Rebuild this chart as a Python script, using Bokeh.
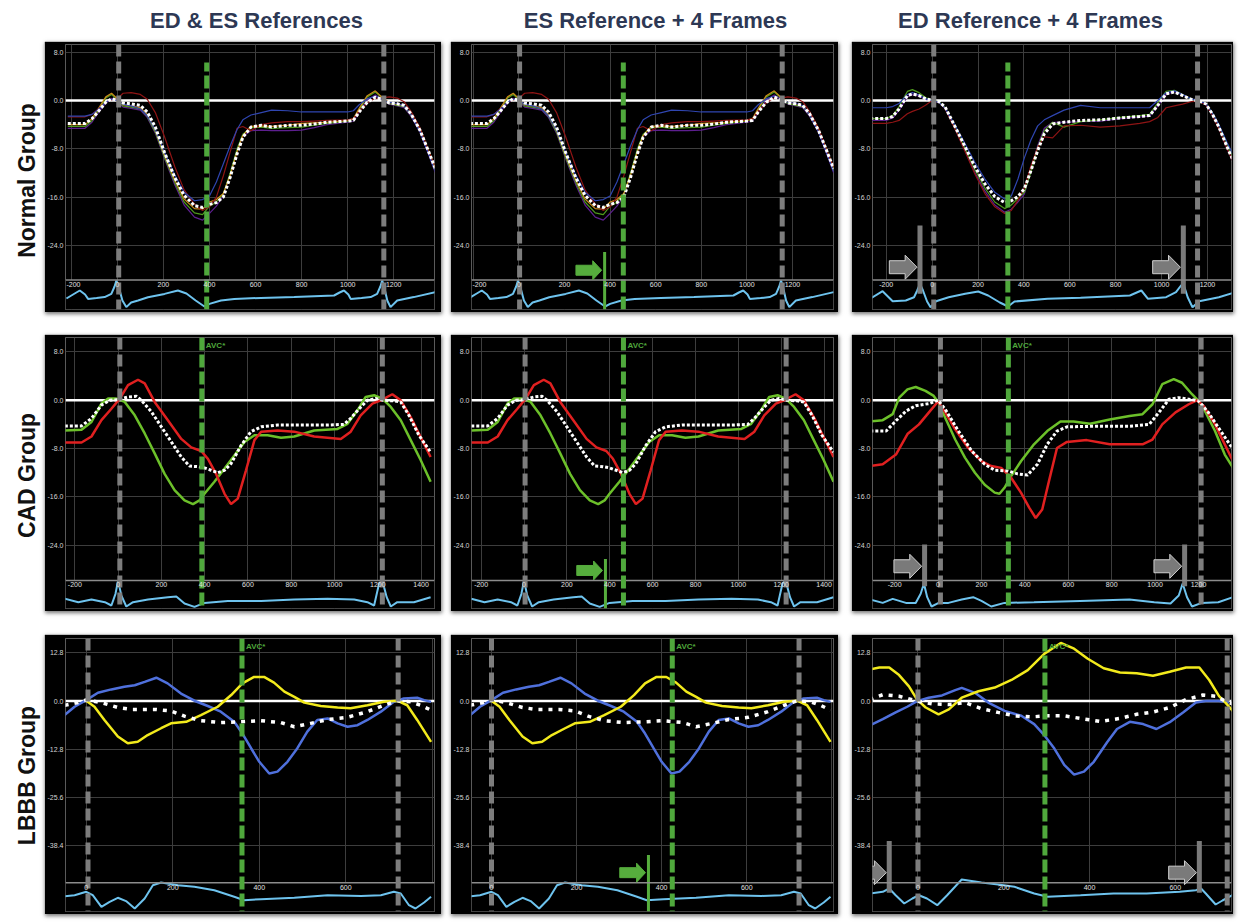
import math
from bokeh.plotting import figure
from bokeh.layouts import row, column
from bokeh.models import (Range1d, Span, FixedTicker, NumeralTickFormatter, Spacer, LabelSet,
                          ColumnDataSource, PolyAnnotation)
from bokeh.core.properties import value
from bokeh.embed import file_html
from bokeh.resources import INLINE

FONT = "Liberation Sans"

# ------------------------------------------------------------------ text
COL_TITLES = ["ED & ES References", "ES Reference + 4 Frames", "ED Reference + 4 Frames"]
ROW_TITLES = ["Normal Group", "CAD Group", "LBBB Group"]

# ------------------------------------------------------------------ ticks
X_TICKS_R1 = [-200, 0, 200, 400, 600, 800, 1000, 1200]
X_TICKS_R2 = [-200, 0, 200, 400, 600, 800, 1000, 1200, 1400]
X_TICKS_R3 = [-200, 0, 200, 400, 600, 800]
Y_TICKS_R12 = [8.0, 0.0, -8.0, -16.0, -24.0]
Y_TICKS_R3 = [12.8, 0.0, -12.8, -25.6, -38.4]

# ------------------------------------------------------------------ Normal group (ED & ES refs / ES + 4 frames)
X_N = [-215, -140, -110, -80, -50, -25, 0, 25, 60, 100, 130, 165, 205, 250, 290, 335, 370, 400, 430, 460,
       490, 520, 545, 580, 625, 670, 740, 800, 855, 910, 1000, 1025, 1050, 1085, 1120, 1150, 1180, 1215,
       1245, 1275, 1315, 1350, 1381]
N_AVG = [-3.8, -3.8, -3.0, -1.7, -0.3, 0.3, 0.0, -0.4, -0.55, -0.8, -1.9, -4.4, -8.6, -12.8, -15.7, -17.4,
         -17.7, -17.2, -16.9, -16.0, -12.7, -8.8, -6.1, -4.4, -4.1, -4.4, -4.1, -4.1, -3.9, -3.6, -3.4, -3.3,
         -1.9, -0.3, 0.55, 0.15, -0.4, -0.55, -0.8, -2.2, -5.0, -8.3, -11.3]
N_BLUE = [-2.6, -2.6, -2.3, -1.4, -0.3, 0.2, 0.0, -0.6, -0.9, -1.4, -2.5, -4.8, -8.6, -12.4, -15.2, -16.6,
          -16.4, -15.8, -13.5, -10.5, -7.5, -4.8, -3.2, -2.4, -2.0, -1.6, -1.7, -1.9, -1.9, -1.9, -1.9, -1.7,
          -0.7, 0.3, 0.7, 0.2, -0.3, -0.5, -0.9, -2.3, -5.2, -8.7, -11.8]
N_RED = [-2.7, -2.7, -2.3, -1.3, -0.3, 0.1, 0.3, 1.2, 1.3, 1.0, 0.2, -2.0, -6.0, -11.0, -14.8, -17.2, -18.2,
         -17.6, -16.0, -12.5, -8.5, -4.6, -4.3, -5.0, -4.0, -3.7, -3.5, -3.5, -3.4, -3.3, -3.2, -3.0, -1.8,
         -0.4, 0.4, 0.4, 0.6, 0.4, -0.2, -1.8, -4.6, -8.3, -11.0]
N_GREEN = [-4.3, -4.3, -3.3, -1.5, 0.4, 1.0, 0.2, -0.9, -1.1, -1.4, -2.6, -5.2, -9.4, -13.6, -16.8, -18.6,
           -18.9, -17.5, -16.8, -15.5, -12.0, -8.0, -5.6, -4.5, -4.4, -4.6, -4.5, -4.4, -4.1, -3.8, -3.4, -3.1,
           -1.5, 0.6, 1.4, 0.4, -0.5, -0.8, -1.0, -2.4, -5.0, -8.4, -11.6]
N_PURPLE = [-4.6, -4.6, -3.6, -1.9, -0.4, 0.3, 0.0, -1.1, -1.3, -1.6, -2.8, -5.4, -9.6, -14.0, -17.3, -19.3,
            -19.8, -18.7, -17.5, -15.8, -12.3, -8.4, -5.9, -5.0, -4.9, -5.0, -5.0, -4.9, -4.5, -4.0, -3.6, -3.4,
            -1.9, 0.1, 0.9, 0.2, -0.6, -0.9, -1.2, -2.6, -5.3, -8.8, -12.0]
N_ORANGE = [-4.0, -4.0, -3.0, -1.2, 0.6, 1.2, 0.3, -0.7, -0.9, -1.2, -2.3, -4.9, -9.0, -13.2, -16.3, -17.9,
            -18.0, -16.8, -16.4, -15.4, -12.4, -8.5, -5.8, -4.3, -4.2, -4.3, -4.1, -3.8, -3.7, -3.6, -3.3, -3.0,
            -1.3, 0.8, 1.6, 0.5, -0.3, -0.6, -0.9, -2.2, -4.8, -8.2, -11.2]

# Normal group, ED + 4 frames
X_N3 = [-270, -200, -172, -144, -108, -86, -57, -29, 0, 29, 57, 101, 144, 187, 230, 273, 316, 345, 374, 402,
        431, 460, 489, 525, 575, 647, 733, 819, 905, 948, 984, 1020, 1056, 1092, 1128, 1164, 1193, 1221, 1250,
        1286, 1322]
N3_AVG = [-3.0, -3.0, -2.65, -1.4, 0.8, 1.1, 0.8, 0.3, 0.0, -0.15, -1.1, -4.4, -7.7, -11.0, -13.8, -15.9,
          -16.9, -16.6, -15.9, -14.6, -11.6, -8.3, -5.5, -3.9, -3.6, -3.3, -3.2, -2.9, -2.65, -2.5, -0.8, 1.1,
          1.4, 0.8, 0.2, -0.1, -0.55, -2.2, -4.4, -7.7, -10.8]
N3_BLUE = [-1.2, -1.2, -1.0, -0.5, 1.0, 1.3, 0.9, 0.3, 0.0, -0.3, -1.3, -4.2, -7.2, -10.3, -13.0, -15.2, -16.3,
           -15.8, -13.0, -9.5, -6.5, -4.2, -3.2, -2.5, -1.6, -0.8, -1.2, -1.2, -1.2, -1.2, 0.0, 1.3, 1.6, 1.0,
           0.3, -0.1, -0.5, -2.0, -4.0, -7.0, -9.8]
N3_RED = [-3.8, -3.8, -3.6, -3.3, -2.2, -1.8, -1.4, -0.8, 0.0, -0.3, -1.4, -4.8, -8.5, -12.2, -15.4, -17.6,
          -18.7, -18.2, -16.5, -14.5, -10.8, -7.8, -6.0, -6.2, -4.2, -4.1, -4.4, -4.2, -3.8, -3.5, -2.8, -1.2,
          -0.9, -0.6, -0.2, -0.1, -0.7, -2.4, -4.7, -8.0, -11.0]
N3_GREEN = [-3.0, -3.0, -2.5, -1.0, 1.5, 1.8, 1.3, 0.5, 0.0, -0.2, -1.2, -4.6, -8.0, -11.5, -14.5, -16.8,
            -17.9, -17.3, -16.2, -15.2, -11.8, -7.8, -5.0, -3.6, -4.4, -3.5, -3.2, -2.8, -2.5, -2.3, -0.4, 1.5,
            1.7, 1.0, 0.2, -0.1, -0.5, -2.0, -4.2, -7.4, -10.3]
N3_PURPLE = [-3.3, -3.3, -2.9, -1.6, 0.6, 1.0, 0.7, 0.2, 0.0, -0.3, -1.3, -4.8, -8.3, -12.0, -15.0, -17.3,
             -18.5, -18.0, -16.8, -15.5, -11.5, -7.5, -4.6, -3.6, -3.6, -3.5, -3.4, -3.0, -2.7, -2.6, -0.9, 1.0,
             1.5, 0.9, 0.2, -0.1, -0.6, -2.3, -4.6, -7.9, -11.0]

# ------------------------------------------------------------------ CAD group
C_AVG_X = [-246, -169, -123, -77, -38, 0, 46, 84, 108, 154, 200, 246, 292, 330, 369, 399, 430, 461, 492, 522,
           568, 614, 661, 737, 814, 968, 1044, 1075, 1114, 1152, 1190, 1229, 1275, 1306, 1344, 1390, 1444]
C_AVG_Y = [-4.25, -4.25, -3.0, -0.8, 0.0, 0.1, 0.55, 0.66, 0.0, -1.9, -4.4, -6.9, -9.4, -10.9, -11.0, -11.2,
           -11.6, -12.0, -11.6, -10.5, -7.5, -5.2, -4.4, -4.1, -4.1, -4.1, -4.0, -3.0, -1.4, 0.0, 0.28, 0.0,
           -0.1, -0.3, -2.5, -5.8, -8.6]
C_GREEN_X = [-246, -169, -123, -77, -46, -8, 31, 77, 123, 169, 215, 261, 307, 346, 376, 399, 445, 492, 538,
             584, 630, 691, 753, 814, 906, 1014, 1060, 1106, 1144, 1183, 1221, 1260, 1306, 1352, 1398, 1444]
C_GREEN_Y = [-5.0, -4.9, -3.6, -0.55, 0.28, 0.28, -0.28, -2.5, -5.5, -8.8, -12.2, -14.9, -16.6, -17.2, -16.6,
             -15.5, -13.5, -11.3, -9.1, -6.9, -5.8, -5.8, -6.2, -6.0, -5.0, -4.75, -3.9, -1.66, 0.55, 0.83,
             0.28, -1.1, -3.3, -6.6, -9.9, -13.5]
C_RED_X = [-246, -169, -123, -77, -31, 8, 46, 92, 123, 169, 230, 292, 338, 384, 415, 453, 492, 522, 553, 591,
           630, 661, 737, 814, 906, 1029, 1075, 1121, 1175, 1214, 1267, 1306, 1352, 1398, 1444]
C_RED_Y = [-7.0, -7.0, -6.0, -3.3, -1.4, 0.28, 2.5, 3.4, 2.8, -0.28, -3.3, -6.4, -7.8, -8.4, -9.7, -12.2,
           -15.5, -17.2, -16.3, -11.6, -6.6, -5.2, -5.0, -5.2, -6.0, -6.4, -5.2, -2.5, -0.55, 0.0, 1.0, 0.0,
           -2.8, -6.1, -9.4]
# CAD group, ED + 4 frames
C3_GREEN_X = [-312, -255, -209, -179, -141, -103, -58, -20, 3, 33, 79, 124, 170, 215, 261, 283, 306, 336, 382,
              442, 503, 564, 624, 700, 791, 882, 942, 988, 1033, 1086, 1124, 1170, 1200, 1230, 1276, 1321, 1359]
C3_GREEN_Y = [-3.5, -3.3, -2.3, 0.44, 1.8, 2.2, 1.55, 0.72, -0.4, -2.9, -6.5, -9.5, -12.0, -14.0, -15.3,
              -15.5, -14.5, -12.6, -10.1, -7.3, -5.1, -3.5, -3.5, -3.9, -3.2, -2.6, -2.3, -0.66, 2.66, 3.5, 2.9,
              1.0, -0.1, -1.8, -5.1, -9.0, -11.2]
C3_RED_X = [-312, -255, -194, -141, -88, -42, 0, 33, 79, 139, 200, 245, 291, 336, 382, 420, 450, 480, 511,
            548, 594, 685, 791, 942, 988, 1033, 1094, 1155, 1192, 1223, 1276, 1321, 1359]
C3_RED_Y = [-10.9, -10.6, -9.0, -5.6, -4.0, -2.0, -0.2, -2.0, -4.8, -7.9, -10.1, -10.9, -11.2, -12.8, -15.3,
            -17.8, -19.5, -18.1, -13.4, -7.9, -6.9, -6.6, -7.3, -7.3, -6.5, -4.0, -2.0, -0.66, 0.0, -0.9, -4.0,
            -7.3, -10.1]
C3_AVG_X = [-312, -239, -194, -148, -103, -42, 0, 33, 94, 155, 215, 261, 321, 367, 412, 458, 503, 548, 594,
            730, 882, 973, 1018, 1064, 1109, 1155, 1200, 1245, 1291, 1359]
C3_AVG_Y = [-5.1, -5.1, -3.4, -1.8, -0.9, -0.55, 0.0, -1.5, -5.1, -8.4, -10.6, -11.6, -11.7, -12.2, -12.4,
            -10.6, -7.3, -5.1, -4.4, -4.3, -4.3, -4.0, -2.0, 0.17, 0.44, 0.17, -0.1, -2.0, -4.5, -8.1]

# ------------------------------------------------------------------ LBBB group
L_BLUE_X = [-50, -27, 0, 27, 58, 88, 112, 135, 162, 188, 219, 250, 281, 311, 342, 361, 381, 400, 423, 442,
            465, 488, 511, 534, 558, 581, 604, 627, 650, 681, 711, 734, 765, 781, 797]
L_BLUE_Y = [-3.7, -1.5, 0.26, 2.2, 3.1, 3.8, 4.2, 5.1, 6.2, 4.7, 2.0, 0.1, -1.3, -2.8, -5.5, -8.6, -12.5,
            -16.1, -19.2, -18.7, -16.1, -12.5, -8.1, -5.0, -4.6, -5.9, -6.8, -6.4, -5.0, -2.8, -0.2, 0.7, 0.9,
            0.26, -0.2]
L_YELLOW_X = [0, 19, 42, 73, 96, 119, 142, 173, 196, 231, 265, 304, 335, 361, 388, 411, 434, 458, 481, 504,
              542, 581, 611, 650, 688, 719, 742, 765, 797]
L_YELLOW_Y = [0.1, -1.5, -5.0, -9.4, -11.2, -10.8, -9.0, -7.2, -5.9, -5.5, -3.7, -1.5, 1.6, 4.7, 6.4, 6.4,
              4.9, 2.5, 1.1, -0.4, -1.3, -1.7, -1.9, -1.1, -0.2, 0.1, -1.1, -5.0, -10.8]
L_AVG_X = [-50, -19, 0, 35, 73, 104, 158, 196, 227, 265, 311, 358, 404, 450, 481, 519, 558, 604, 650, 688,
           719, 750, 773, 797]
L_AVG_Y = [-1.1, -0.4, 0.3, -0.4, -1.7, -2.2, -2.2, -2.6, -4.0, -5.2, -5.7, -5.5, -5.2, -5.7, -6.8, -5.9,
           -4.9, -4.3, -2.8, -1.1, 0.1, -0.2, -1.1, -2.4]
# LBBB group, ED + 4 frames
L3_YELLOW_X = [-113, -90, -67, -44, -21, -2, 18, 48, 72, 102, 141, 179, 218, 256, 295, 333, 364, 395, 433,
               471, 510, 548, 587, 625, 656, 679, 702, 717, 737]
L3_YELLOW_Y = [8.4, 8.9, 8.9, 6.9, 3.9, 0.4, -1.7, -3.5, -2.2, 0.9, 2.6, 3.6, 5.6, 8.2, 12.6, 15.4, 13.9,
               11.3, 8.7, 7.6, 7.4, 6.7, 7.8, 8.9, 8.9, 5.6, 1.3, -0.4, -3.0]
L3_BLUE_X = [-113, -82, -52, -25, -2, 25, 56, 87, 102, 133, 164, 202, 241, 271, 295, 318, 341, 364, 387, 410,
             441, 464, 494, 525, 556, 587, 618, 648, 671, 702, 725]
L3_BLUE_Y = [-6.5, -4.8, -3.0, -1.5, 0.0, 0.9, 1.5, 2.9, 3.5, 2.2, -0.4, -2.6, -3.9, -6.1, -9.1, -12.6, -16.9,
             -19.5, -18.7, -16.1, -10.9, -7.4, -5.5, -6.1, -7.4, -5.6, -3.0, -0.4, 0.0, 0.0, -0.4]
L3_AVG_X = [-113, -82, -44, -2, 33, 72, 110, 148, 187, 225, 264, 302, 341, 379, 425, 471, 510, 548, 587, 625,
            664, 694, 717, 737]
L3_AVG_Y = [0.4, 1.7, 1.3, 0.0, -0.7, -0.9, -0.4, -2.0, -3.0, -3.9, -4.2, -3.9, -3.9, -4.6, -5.4, -4.6, -3.5,
            -2.9, -1.7, 0.4, 1.6, 1.3, 0.0, -0.9]

# ------------------------------------------------------------------ ECG traces (arbitrary units, R peak ~1)
ECG_N_X = [-221, -185, -163, -140, -127, -90, -55, -26, -12, -4, 8, 22, 39, 60, 90, 133, 205, 263, 300, 340,
           378, 400, 450, 508, 623, 768, 941, 965, 984, 1003, 1013, 1060, 1100, 1128, 1142, 1150, 1160, 1172,
           1186, 1215, 1287, 1381]
ECG_N_Y = [0.1, 0.35, 0.5, 0.3, 0.08, 0.12, 0.17, 0.33, 0.7, 1.0, 0.6, 0.0, -0.33, -0.1, 0.0, 0.16, 0.33, 0.5,
           0.35, 0.0, -0.3, -0.17, 0.0, 0.08, 0.13, 0.17, 0.25, 0.4, 0.5, 0.3, 0.08, 0.12, 0.17, 0.33, 0.7, 1.0,
           0.6, 0.0, -0.33, 0.0, 0.17, 0.42]
ECG_N3_X = [-270, -216, -172, -115, -79, -65, -53, -40, -22, -7, 17, 72, 144, 201, 244, 295, 331, 359, 503,
            647, 862, 912, 941, 1020, 1063, 1085, 1095, 1114, 1135, 1164, 1250, 1322]
ECG_N3_Y = [0.085, 0.465, -0.035, 0.0, 0.165, 0.5, 0.835, 0.5, -0.05, -0.335, -0.035, 0.165, 0.335, 0.45,
            0.25, -0.1, -0.3, -0.05, 0.085, 0.135, 0.25, 0.5, 0.085, 0.165, 0.415, 0.75, 0.835, 0.165, -0.335,
            -0.035, 0.165, 0.415]
ECG_C_X = [-246, -184, -123, -61, -31, -12, 0, 15, 38, 69, 138, 230, 269, 307, 353, 399, 507, 661, 814, 968,
           1091, 1152, 1183, 1206, 1221, 1241, 1260, 1290, 1367, 1444]
ECG_C_Y = [0.035, -0.135, 0.0, -0.135, -0.3, 0.285, 0.95, 0.2, -0.35, -0.135, 0.0, 0.115, 0.15, -0.2, -0.37,
           -0.17, -0.07, -0.07, 0.0, 0.035, 0.0, -0.135, -0.3, 0.8, 0.95, 0.115, -0.35, -0.135, -0.135, 0.115]
ECG_C3_X = [-312, -255, -209, -148, -103, -80, -65, -50, -30, 3, 48, 109, 162, 200, 245, 306, 442, 655, 882,
            996, 1071, 1109, 1127, 1147, 1170, 1215, 1291, 1359]
ECG_C3_Y = [0.0, -0.17, 0.03, -0.17, -0.17, 0.285, 0.8, 0.115, -0.35, -0.17, -0.17, 0.0, 0.115, -0.07, -0.35,
            -0.17, -0.135, -0.07, 0.0, -0.135, -0.2, 0.2, 0.8, 0.115, -0.35, -0.17, -0.135, 0.115]
ECG_L_X = [-58, -27, 0, 15, 35, 54, 73, 92, 112, 135, 154, 173, 212, 250, 296, 342, 365, 404, 481, 558, 635,
           681, 711, 727, 746, 761, 781, 797]
ECG_L_Y = [0.285, 0.365, 0.535, 0.365, -0.215, 0.035, 0.235, 0.07, -0.3, 0.2, 0.865, 1.0, 0.865, 0.785,
           0.615, 0.285, 0.115, 0.165, 0.235, 0.365, 0.33, 0.365, 0.535, 0.45, -0.135, -0.3, 0.0, 0.285]
ECG_L3_X = [-113, -82, -67, -52, -32, -13, 2, 21, 45, 68, 102, 148, 187, 225, 271, 302, 379, 456, 533, 610,
            648, 660, 671, 694, 710, 733]
ECG_L3_Y = [0.45, 0.535, 0.7, 0.365, -0.05, 0.2, 0.365, 0.2, -0.135, 0.365, 1.15, 1.0, 0.9, 0.785, 0.45,
            0.285, 0.365, 0.45, 0.45, 0.535, 0.615, 0.7, 0.45, -0.1, 0.1, 0.365]

# ------------------------------------------------------------------ event markers (ms) per [row][col]
ED_LINES = [[[6, 1157], [3, 1155], [7, 1157]],
            [[8, 1221], [5, 1223], [11, 1212]],
            [[4, 721], [0, 723], [0, 721]]]
AVC_X = [[388, 458, 330], [387, 464, 324], [360, 425, 296]]
ES_MARK_X = [376, 380, 369]          # green ES marker (column 2), per row
ES_MARK_TOP = [-25.1, -26.3, -40.8]
ES_ARROW_Y = [-28.1, -28.2, -45.5]
ED_BAR_X = [[-53, 1095], [-62, 1136], [-67, 656]]   # grey ED markers (column 3), per row
ED_BAR_TOP = [-20.7, -23.9, -37.1]
ED_BAR_BOTTOM = [-32.0, -30.8, -50.8]
ED_ARROW_Y = [-27.6, -27.5, -45.5]

# ------------------------------------------------------------------ styles / geometry
GREY_DASH = "#7d7d7d"
GREEN = "#4fa83c"
GREEN_MARK = "#56ad3d"
ECG_COLOR = "#6ec3ee"

COL_W = [397, 388, 382]
COL_BL = [20, 17, 17]
COL_BR = [7, 5, 2]
ROW_H = [271, 277, 280]
ROW_BT = [3, 3, 4]
ROW_BB = [3, 3, 3]
X_RANGES = [[(-225, 1377), (-208, 1380), (-260, 1305)],
            [(-243, 1462), (-245, 1444), (-302, 1352)],
            [(-48, 805), (-47, 804), (-106, 731)]]
Y_RANGES = [(-34.6, 9.27), (-34.5, 10.4), (-55.8, 16.6)]
SEP_Y = [-29.7, -29.85, -48.2]
GREEN_TOP_R1 = 6.3
PANEL_STYLE = {"box-shadow": "1px 2px 4px rgba(0,0,0,0.55)"}


def arrow_annotation(p, tip_x, yc, sx, sy, body_len, body_h, head_len, head_h, fill, line):
    neck = tip_x - head_len * sx
    tail = neck - body_len * sx
    bh = body_h / 2.0 * sy
    hh = head_h / 2.0 * sy
    xs = [tail, neck, neck, tip_x, neck, neck, tail]
    ys = [yc + bh, yc + bh, yc + hh, yc, yc - hh, yc - bh, yc - bh]
    p.add_layout(PolyAnnotation(xs=xs, ys=ys, fill_color=fill, fill_alpha=1.0, line_color=line,
                                line_width=1, line_alpha=1.0))


def make_panel(r, c, curves, ecg, xticks, yticks):
    w, h = COL_W[c], ROW_H[r]
    bl, br, bt, bb = COL_BL[c], COL_BR[c], ROW_BT[r], ROW_BB[r]
    xr, yr, sep = X_RANGES[r][c], Y_RANGES[r], SEP_Y[r]
    p = figure(width=w, height=h, x_range=Range1d(*xr), y_range=Range1d(*yr),
               output_backend="svg", toolbar_location=None,
               min_border_left=bl, min_border_right=br, min_border_top=bt, min_border_bottom=bb,
               background_fill_color="black", border_fill_color="black", styles=PANEL_STYLE)
    p.outline_line_color = "#5a5a5a"
    p.xaxis.visible = False
    ya = p.yaxis[0]
    ya.ticker = FixedTicker(ticks=yticks)
    ya.formatter = NumeralTickFormatter(format="0.0")
    ya.axis_line_color = None
    ya.major_tick_line_color = None
    ya.minor_tick_line_color = None
    ya.major_tick_out = 0
    ya.major_tick_in = 0
    ya.minor_tick_out = 0
    ya.minor_tick_in = 0
    ya.major_label_text_font_size = "7px"
    ya.major_label_text_color = "#d4d4d4"
    ya.major_label_text_font = FONT
    ya.major_label_standoff = 2
    p.xgrid[0].ticker = FixedTicker(ticks=xticks)
    p.ygrid[0].ticker = FixedTicker(ticks=[t for t in yticks if t != 0])
    for g in (p.xgrid[0], p.ygrid[0]):
        g.grid_line_color = "#3d3d3d"
        g.grid_line_width = 1

    fw = w - bl - br
    fh = h - bt - bb
    sx = (xr[1] - xr[0]) / fw
    sy = (yr[1] - yr[0]) / fh

    p.add_layout(Span(location=0, dimension="width", line_color="white", line_width=2.5, level="underlay"))
    # ECG strip hides the grid
    p.quad(left=[xr[0]], right=[xr[1]], bottom=[yr[0]], top=[sep], fill_color="black", line_color=None)

    for cx, cy, col, lw, dash in curves:
        p.line(cx, cy, line_color=col, line_width=lw, line_dash=dash)

    p.extra_y_ranges = {"ecg": Range1d(-0.45, -0.45 + fh / 20.0)}
    p.line(ecg[0], ecg[1], y_range_name="ecg", line_color=ECG_COLOR, line_width=2)

    p.add_layout(Span(location=sep, dimension="width", line_color="#8c8c8c", line_width=1.5))

    # green AVC / ES reference line
    avc = AVC_X[r][c]
    if r == 0:
        p.segment(x0=[avc], y0=[yr[0]], x1=[avc], y1=[GREEN_TOP_R1], line_color=GREEN, line_width=5,
                  line_dash="13 4")
    else:
        p.add_layout(Span(location=avc, dimension="height", line_color=GREEN, line_width=5, line_dash="13 4"))
        avc_src = ColumnDataSource(dict(x=[avc], y=[yr[1]], t=["AVC*"]))
        p.add_layout(LabelSet(x="x", y="y", text="t", source=avc_src, x_offset=4, y_offset=-3,
                              text_baseline="top", text_font=value(FONT), text_font_size="8px",
                              text_font_style="bold", text_color=GREEN))

    # grey ED dashed lines
    for ex in ED_LINES[r][c]:
        p.add_layout(Span(location=ex, dimension="height", line_color=GREY_DASH, line_width=5,
                          line_dash="12 5"))

    # x tick labels sit just under the separator line, above the ECG
    lx, lpos, lal = [], [], []
    for t in xticks:
        if not (xr[0] < t < xr[1] - 10):
            continue
        lx.append(str(t))
        if (t - xr[0]) / sx < 9:          # keep the first label inside the frame
            lpos.append(xr[0] + 1 * sx)
            lal.append("left")
        else:
            lpos.append(t)
            lal.append("center")
    tick_src = ColumnDataSource(dict(x=lpos, y=[sep] * len(lx), t=lx, a=lal))
    p.add_layout(LabelSet(x="x", y="y", text="t", source=tick_src, text_align="a", text_baseline="top",
                          y_offset=-2, text_font=value(FONT), text_font_size="7px", text_color="#e0e0e0"))

    if c == 1:
        es = ES_MARK_X[r]
        p.segment(x0=[es], y0=[yr[0]], x1=[es], y1=[ES_MARK_TOP[r]], line_color=GREEN_MARK, line_width=3)
        arrow_annotation(p, es - 3 * sx, ES_ARROW_Y[r], sx, sy, 17, 10, 9, 19, GREEN_MARK, GREEN_MARK)
    if c == 2:
        for bx in ED_BAR_X[r]:
            p.segment(x0=[bx], y0=[ED_BAR_BOTTOM[r]], x1=[bx], y1=[ED_BAR_TOP[r]], line_color="#7a7a7a",
                      line_width=5)
            arrow_annotation(p, bx - 3 * sx, ED_ARROW_Y[r], sx, sy, 16, 13, 12, 24, "#7a7a7a", "#cfcfcf")
    return p


DOT = "3 2"
DOT_L = "4 6"
normal_12 = [(X_N, N_PURPLE, "#5d1f8f", 1.2, "solid"), (X_N, N_GREEN, "#4f9a1e", 1.2, "solid"),
             (X_N, N_ORANGE, "#c98a1a", 1.2, "solid"), (X_N, N_RED, "#8e1414", 1.2, "solid"),
             (X_N, N_BLUE, "#2f45b0", 1.2, "solid"), (X_N, N_AVG, "white", 3, DOT)]
normal_3 = [(X_N3, N3_PURPLE, "#5d1f8f", 1.2, "solid"), (X_N3, N3_GREEN, "#4f9a1e", 1.2, "solid"),
            (X_N3, N3_RED, "#8e1414", 1.2, "solid"), (X_N3, N3_BLUE, "#2f45b0", 1.2, "solid"),
            (X_N3, N3_AVG, "white", 3, DOT)]
cad_12 = [(C_GREEN_X, C_GREEN_Y, "#6cc02a", 2.5, "solid"), (C_RED_X, C_RED_Y, "#e02020", 2.5, "solid"),
          (C_AVG_X, C_AVG_Y, "white", 3, DOT)]
cad_3 = [(C3_GREEN_X, C3_GREEN_Y, "#6cc02a", 2.5, "solid"), (C3_RED_X, C3_RED_Y, "#e02020", 2.5, "solid"),
         (C3_AVG_X, C3_AVG_Y, "white", 3, DOT)]
lbbb_12 = [(L_BLUE_X, L_BLUE_Y, "#4f70dc", 2.5, "solid"), (L_YELLOW_X, L_YELLOW_Y, "#f2ea1c", 2.5, "solid"),
           (L_AVG_X, L_AVG_Y, "white", 3.5, DOT_L)]
lbbb_3 = [(L3_BLUE_X, L3_BLUE_Y, "#4f70dc", 2.5, "solid"), (L3_YELLOW_X, L3_YELLOW_Y, "#f2ea1c", 2.5, "solid"),
          (L3_AVG_X, L3_AVG_Y, "white", 3.5, DOT_L)]

grid_spec = [
    [(normal_12, (ECG_N_X, ECG_N_Y)), (normal_12, (ECG_N_X, ECG_N_Y)), (normal_3, (ECG_N3_X, ECG_N3_Y))],
    [(cad_12, (ECG_C_X, ECG_C_Y)), (cad_12, (ECG_C_X, ECG_C_Y)), (cad_3, (ECG_C3_X, ECG_C3_Y))],
    [(lbbb_12, (ECG_L_X, ECG_L_Y)), (lbbb_12, (ECG_L_X, ECG_L_Y)), (lbbb_3, (ECG_L3_X, ECG_L3_Y))],
]
XT = [X_TICKS_R1, X_TICKS_R2, X_TICKS_R3]
YT = [Y_TICKS_R12, Y_TICKS_R12, Y_TICKS_R3]

COL_GAPS = [9, 13]
ROW_GAPS = [22, 23]
TITLE_H = 41          # includes the 8px top margin of the page
LABEL_W = 44          # includes the 8px left margin of the page
TITLE_X = [256, 655, 1030]
TITLE_Y = 21
ROW_LABEL_X = 26
ROW_LABEL_Y = [734, 439, 139]

rows = []
for r in range(3):
    panels = []
    for c in range(3):
        curves, ecg = grid_spec[r][c]
        panels.append(make_panel(r, c, curves, ecg, XT[r], YT[r]))
        if c < 2:
            panels.append(Spacer(width=COL_GAPS[c], height=ROW_H[r]))
    rows.append(row(*panels))
    if r < 2:
        rows.append(Spacer(width=10, height=ROW_GAPS[r]))
panel_block = column(*rows)

total_w = LABEL_W + sum(COL_W) + sum(COL_GAPS)
rows_h = sum(ROW_H) + sum(ROW_GAPS)

tf = figure(width=total_w, height=TITLE_H, x_range=Range1d(0, total_w), y_range=Range1d(0, TITLE_H),
            output_backend="svg", toolbar_location=None, min_border=0,
            x_axis_location=None, y_axis_location=None)
tf.grid.visible = False
tf.outline_line_color = None
tf.text(x=TITLE_X, y=[TITLE_Y] * 3, text=COL_TITLES, text_align="center", text_baseline="middle",
        text_font=value(FONT), text_font_style="bold", text_font_size="22px", text_color="#2d3854")

lf = figure(width=LABEL_W, height=rows_h, x_range=Range1d(0, LABEL_W), y_range=Range1d(0, rows_h),
            output_backend="svg", toolbar_location=None, min_border=0,
            x_axis_location=None, y_axis_location=None)
lf.grid.visible = False
lf.outline_line_color = None
lf.text(x=[ROW_LABEL_X] * 3, y=ROW_LABEL_Y, text=ROW_TITLES, angle=math.pi / 2, text_align="center",
        text_baseline="middle", text_font=value(FONT), text_font_style="bold", text_font_size="23px",
        text_color="#111111")

layout = column(tf, row(lf, panel_block))

with open("out.html", "w") as f:
    f.write(file_html(layout, INLINE))
